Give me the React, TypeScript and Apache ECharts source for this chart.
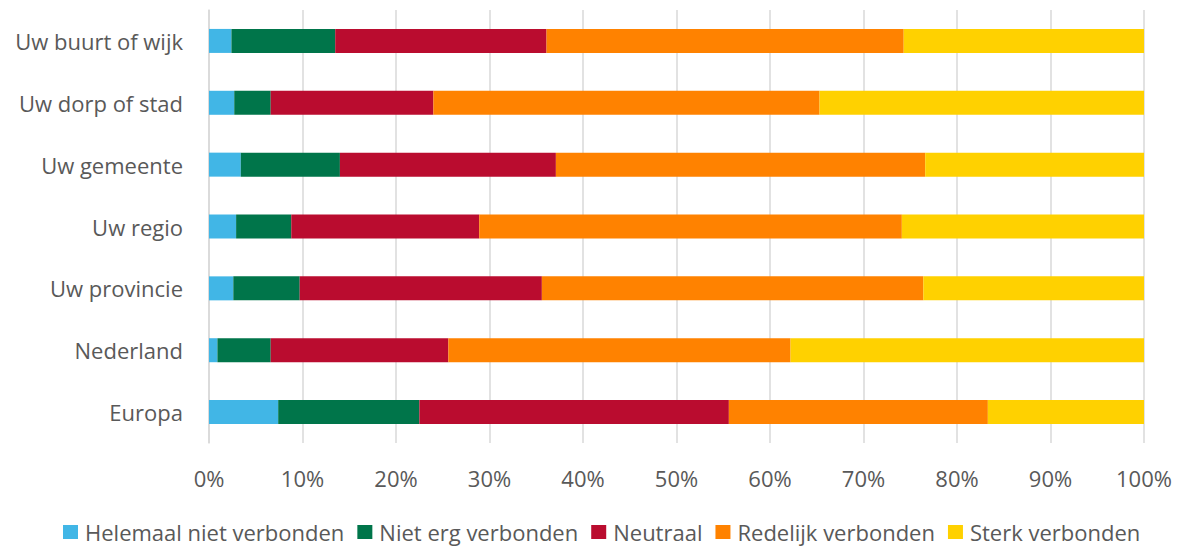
import React, { useEffect, useRef } from "react";
import * as echarts from "echarts";

const categories = [
  "Uw buurt of wijk",
  "Uw dorp of stad",
  "Uw gemeente",
  "Uw regio",
  "Uw provincie",
  "Nederland",
  "Europa",
];

const seriesNames = [
  "Helemaal niet verbonden",
  "Niet erg verbonden",
  "Neutraal",
  "Redelijk verbonden",
  "Sterk verbonden",
];

const helemaalNiet = [2.4, 2.7, 3.4, 2.9, 2.6, 0.9, 7.4];
const nietErg = [11.1, 3.9, 10.6, 5.9, 7.1, 5.7, 15.1];
const neutraal = [22.6, 17.4, 23.1, 20.1, 25.9, 19.0, 33.1];
const redelijk = [38.2, 41.3, 39.5, 45.2, 40.8, 36.6, 27.7];
const sterk = [25.7, 34.7, 23.4, 25.9, 23.6, 37.8, 16.7];

const colors = ["#41b6e6", "#00754a", "#ba0c2f", "#ff8200", "#ffd100"];

export default function App() {
  const ref = useRef<HTMLDivElement>(null);
  useEffect(() => {
    if (!ref.current) return;
    const chart = echarts.init(ref.current, undefined, { renderer: "svg" });
    const values = [helemaalNiet, nietErg, neutraal, redelijk, sterk];
    const font = "'Open Sans', 'Noto Sans', sans-serif";
    chart.setOption({
      animation: false,
      color: colors,
      grid: { left: 209, right: 37, top: 10, bottom: 105, containLabel: false },
      legend: {
        left: 58,
        bottom: 0,
        itemWidth: 15,
        itemHeight: 14,
        itemGap: 13,
        icon: "rect",
        textStyle: { fontFamily: font, fontSize: 22, color: "#595959", padding: [0, 0, 0, 2] },
        data: seriesNames,
      },
      xAxis: {
        type: "value",
        min: 0,
        max: 100,
        interval: 10,
        axisLabel: {
          formatter: (v: number) => `${v}%`,
          fontFamily: font,
          fontSize: 22,
          color: "#595959",
          margin: 24,
        },
        axisLine: { show: false },
        axisTick: { show: false },
        splitLine: { show: true, lineStyle: { color: "#d9d9d9", width: 1.5 } },
      },
      yAxis: {
        type: "category",
        inverse: true,
        data: categories,
        axisLabel: {
          fontFamily: font,
          fontSize: 22,
          color: "#595959",
          margin: 26,
        },
        axisLine: { show: true, lineStyle: { color: "#d9d9d9", width: 1.5 } },
        axisTick: { show: false },
      },
      series: seriesNames.map((name, i) => ({
        name,
        type: "bar",
        stack: "total",
        barWidth: 24,
        data: values[i],
        itemStyle: { color: colors[i] },
      })),
    });
    return () => chart.dispose();
  }, []);
  return (
    <div
      ref={ref}
      style={{ position: "fixed", left: 0, top: 0, width: 1181, height: 548, background: "#fff" }}
    />
  );
}
